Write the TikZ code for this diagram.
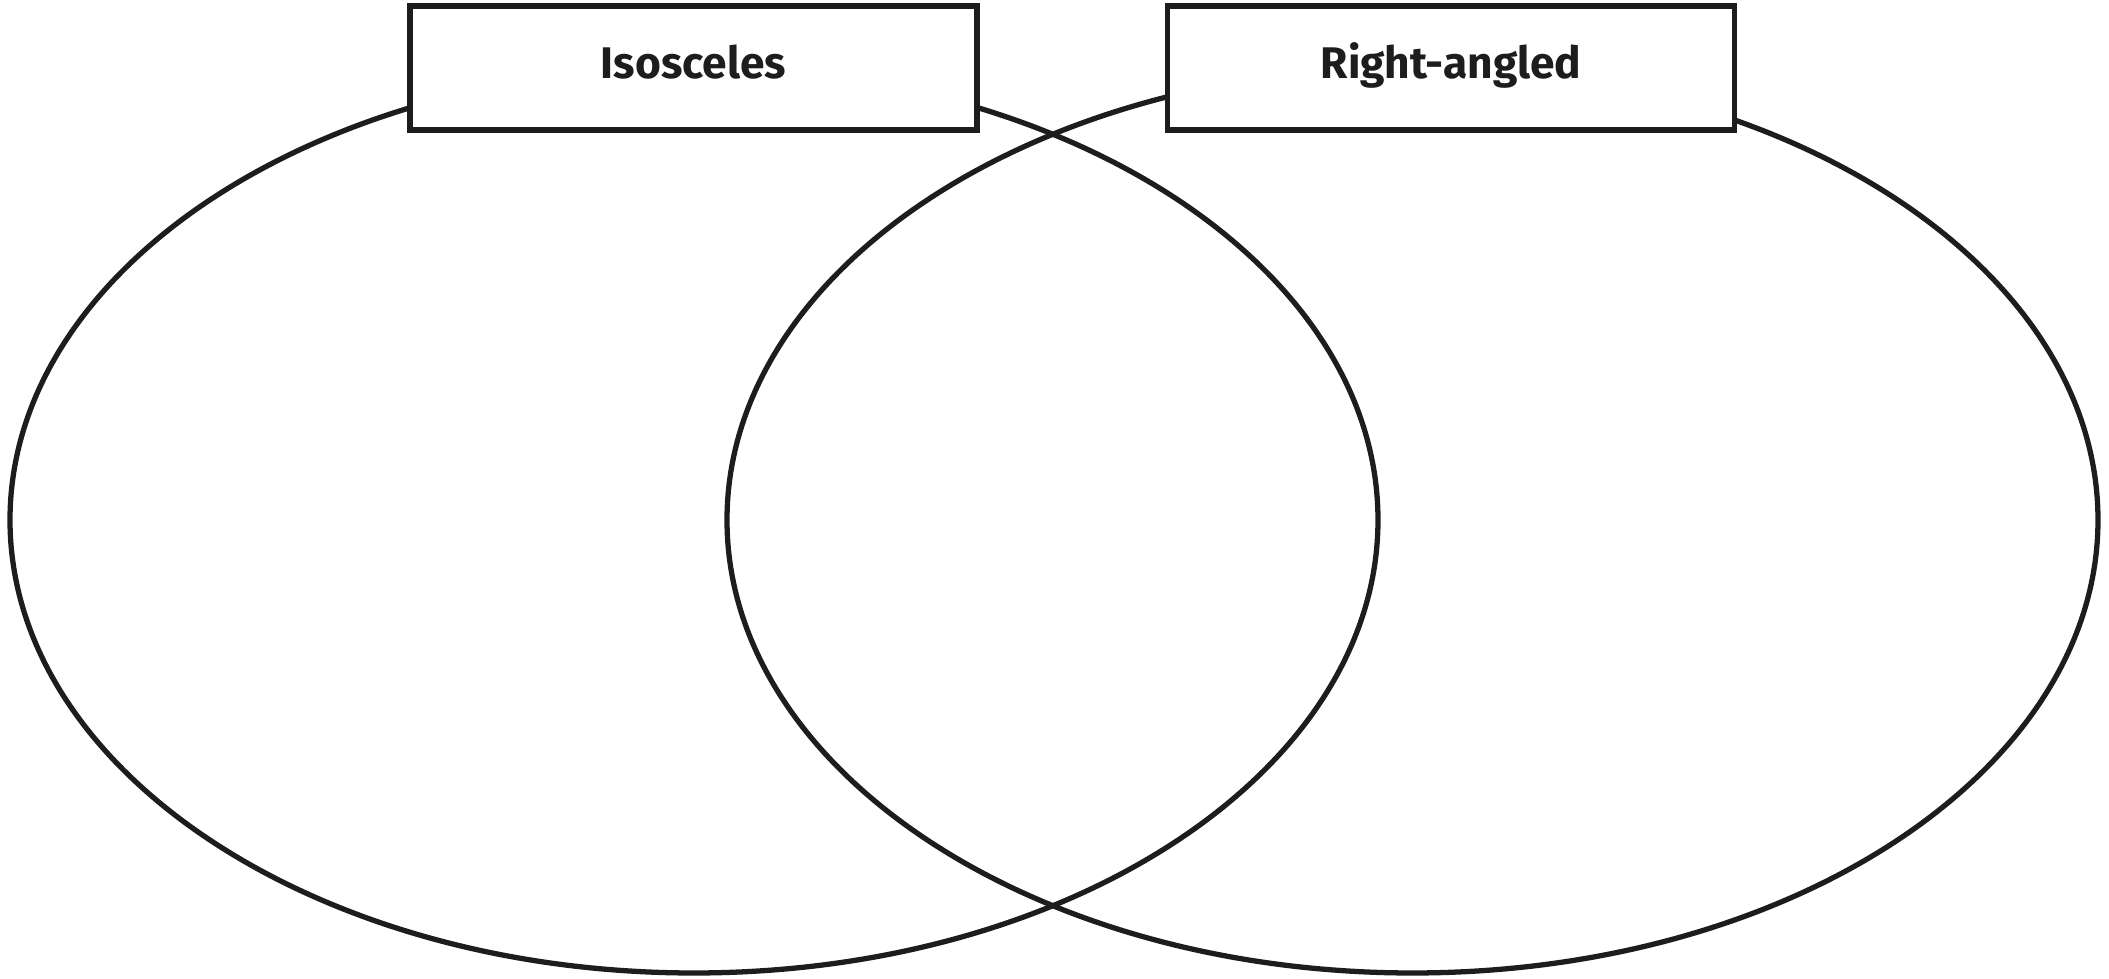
\documentclass[tikz,border=0pt]{standalone}
\usepackage{fontspec}
\setmainfont{Fira Sans}
\usepackage{tikz}
\definecolor{venngrey}{HTML}{1D1D1B}

\tikzset{
	setline/.style={draw=venngrey,line width=1.5pt},
	titlebox/.style={draw=venngrey,line width=1.5pt,fill=white,rectangle,minimum width=5.67cm,minimum height=1.24cm,inner sep=0pt,text height=0.3cm,text depth=0.08cm,text=venngrey,font=\fontsize{12.6}{14}\selectfont\bfseries}
}

\begin{document}
\begin{tikzpicture}
	\useasboundingbox (0,0) rectangle (21.09,9.79);
	\coordinate (isoc) at (6.94,4.59);
	\coordinate (rightc) at (14.125,4.59);
	\draw[setline] (isoc) ellipse [x radius=6.84cm,y radius=4.53cm];
	\draw[setline] (rightc) ellipse [x radius=6.855cm,y radius=4.53cm];
	\node[titlebox] (isotitle) at (6.935,9.11) {Isosceles};
	\node[titlebox] (righttitle) at (14.51,9.11) {Right-angled};
\end{tikzpicture}
\end{document}
